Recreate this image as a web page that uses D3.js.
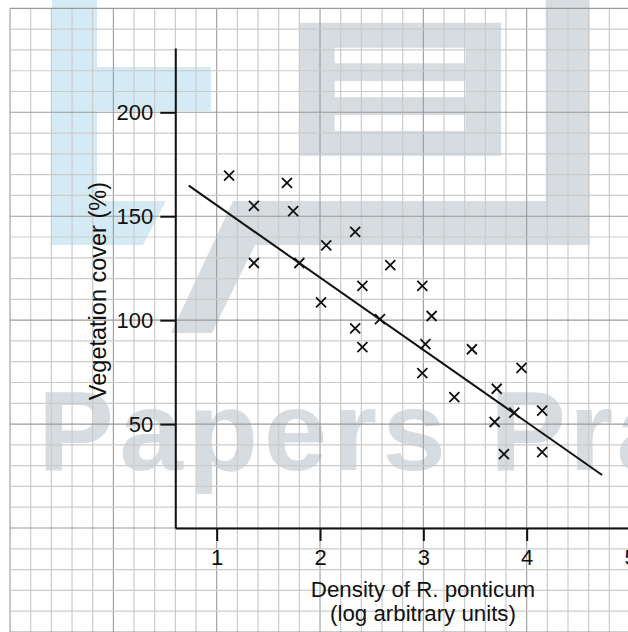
<!DOCTYPE html>
<html>
<head>
<meta charset="utf-8">
<script src="https://cdn.jsdelivr.net/npm/d3@7"></script>
<style>
  html, body { margin: 0; padding: 0; background: #fff; }
  svg { display: block; }
  text { font-family: "Liberation Sans", Arial, sans-serif; fill: #111; }
</style>
</head>
<body>
<svg id="chart" width="628" height="632"></svg>
<script>
// ---- data ----
const density = [1.12, 1.68, 1.36, 1.74, 2.06, 1.36, 1.80, 2.34, 2.68, 2.41, 2.99, 2.01, 3.08, 2.58, 2.34, 3.02, 2.41, 3.47, 2.99, 3.30, 3.95, 3.71, 4.15, 3.88, 3.69, 4.15, 3.78];
const cover   = [169.5, 166, 155, 152.5, 136, 127.5, 127.5, 142.5, 126.5, 116.5, 116.5, 108.5, 102, 100.5, 96, 88.5, 87, 86, 74.5, 63, 77, 67, 56.5, 55.5, 51, 36.5, 35.5];
const fitX = [0.73, 4.73];
const fitY = [164.7, 25.5];
const xTicks = [1, 2, 3, 4, 5];
const yTicks = [50, 100, 150, 200];
const xTitle = ["Density of R. ponticum", "(log arbitrary units)"];
const yTitle = "Vegetation cover (%)";

const svg = d3.select("#chart");
const W = 628, H = 632;

const x = d3.scaleLinear().domain([1, 5]).range([216.7, 630]);
const y = d3.scaleLinear().domain([0, 200]).range([528, 112.3]);

// ---- watermark (logo) ----
const wm = svg.append("g");
const blue = "#d4ebf5", grey = "#d7dce1";
wm.append("path").attr("fill", blue)
  .attr("d", "M52,0 H97 V67 H211 V111 H97 V201 H166 L143,245 H52 Z");
wm.append("path").attr("fill", grey).attr("fill-rule", "evenodd")
  .attr("d", "M300,22.7 H501 V155.7 H300 Z M334.7,47.7 H465.7 V63.3 H334.7 Z M334.7,81 H465.7 V97.3 H334.7 Z M334.7,115 H465.7 V131 H334.7 Z");
wm.append("path").attr("fill", grey)
  .attr("d", "M545.7,0 H589.7 V245 H255 L212,333 H171 L233,201 H545.7 Z");
wm.append("text").text("Papers")
  .attr("x", 38).attr("y", 470)
  .attr("font-size", 114).attr("font-weight", "bold")
  .attr("textLength", 408).attr("lengthAdjust", "spacing")
  .style("fill", grey);
wm.append("text").text("Practice")
  .attr("x", 490).attr("y", 470)
  .attr("font-size", 114).attr("font-weight", "bold")
  .attr("letter-spacing", 3)
  .style("fill", grey);

// ---- grid ----
const grid = svg.append("g");
const gTop = y(250), gLeft = x(-1);
const vKs = d3.range(-5, 29);   // x = k/5
const hKs = d3.range(-6, 26);   // y = k*10
grid.selectAll("line.v").data(vKs).join("line")
  .attr("x1", k => x(k / 5)).attr("x2", k => x(k / 5))
  .attr("y1", gTop).attr("y2", H)
  .attr("stroke", k => k % 5 === 0 ? "#9a9a9a" : "#cbcbcb")
  .attr("stroke-width", k => k % 5 === 0 ? 1.1 : 1.2);
grid.selectAll("line.h").data(hKs).join("line")
  .attr("y1", k => y(k * 10)).attr("y2", k => y(k * 10))
  .attr("x1", gLeft).attr("x2", W)
  .attr("stroke", k => k % 5 === 0 ? "#9a9a9a" : "#cbcbcb")
  .attr("stroke-width", k => k % 5 === 0 ? 1.1 : 1.2);

// ---- axes ----
const yAxisScale = y.copy().domain([0, y.invert(48)]).range([y(0), 48]);
const xAxisScale = x.copy().domain([x.invert(175.3), 5.2]).range([175.3, x(5.2)]);

const yAx = svg.append("g").attr("transform", "translate(175.3,0)")
  .call(d3.axisLeft(yAxisScale).tickValues(yTicks).tickFormat(d3.format("d"))
    .tickSize(15).tickSizeOuter(0).tickPadding(7));
const xAx = svg.append("g").attr("transform", `translate(0,${y(0)})`)
  .call(d3.axisBottom(xAxisScale).tickValues(xTicks).tickFormat(d3.format("d"))
    .tickSize(13).tickSizeOuter(0).tickPadding(8));
[yAx, xAx].forEach(g => {
  g.select(".domain").attr("stroke", "#111").attr("stroke-width", 2);
  g.selectAll(".tick line").attr("stroke", "#111").attr("stroke-width", 2);
  g.selectAll(".tick text").attr("font-size", 22).attr("fill", "#111")
    .style("font-family", '"Liberation Sans", Arial, sans-serif');
});

// ---- titles ----
svg.append("text").attr("x", 423).attr("y", 597).attr("text-anchor", "middle")
  .attr("font-size", 22.3).text(xTitle[0]);
svg.append("text").attr("x", 423).attr("y", 621).attr("text-anchor", "middle")
  .attr("font-size", 22.3).text(xTitle[1]);
svg.append("text").attr("transform", `translate(106,${y(114)}) rotate(-90)`)
  .attr("text-anchor", "middle").attr("font-size", 23.5).text(yTitle);

// ---- regression line ----
svg.append("line")
  .attr("x1", x(fitX[0])).attr("y1", y(fitY[0]))
  .attr("x2", x(fitX[1])).attr("y2", y(fitY[1]))
  .attr("stroke", "#111").attr("stroke-width", 2);

// ---- points (crosses) ----
const pts = density.map((d, i) => ({ d, c: cover[i] }));
const s = 5;
svg.append("g").selectAll("path").data(pts).join("path")
  .attr("d", p => {
    const cx = x(p.d), cy = y(p.c);
    return `M${cx - s},${cy - s}L${cx + s},${cy + s}M${cx - s},${cy + s}L${cx + s},${cy - s}`;
  })
  .attr("stroke", "#111").attr("stroke-width", 1.8).attr("fill", "none");
</script>
</body>
</html>
